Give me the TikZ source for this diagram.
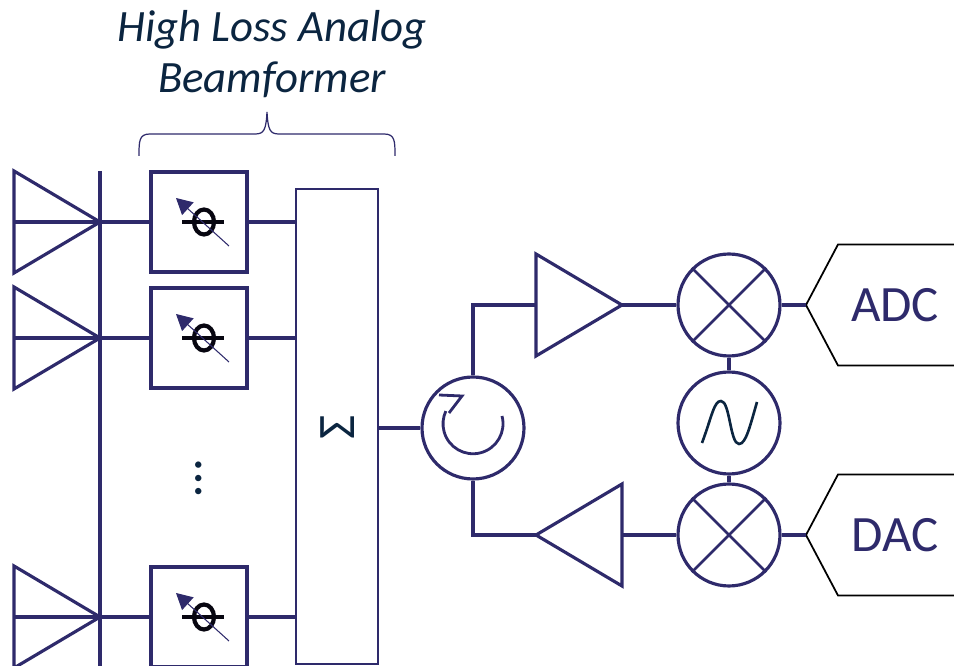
\documentclass[tikz,border=0pt]{standalone}
\usepackage{fontspec}
\setmainfont{Carlito}
\usetikzlibrary{shapes.geometric,arrows.meta}
\definecolor{navy}{HTML}{2E2A6B}
\definecolor{ink}{HTML}{0B2540}
\tikzset{
    wire/.style={navy, line width=1.8pt},
    thinbox/.style={draw=navy, line width=1.3pt, minimum width=1.64cm, minimum height=9.5cm, inner sep=0pt},
    phasebox/.style={draw=navy, line width=1.8pt, minimum width=1.92cm, minimum height=2cm, inner sep=0pt},
    roundel/.style={circle, draw=navy, line width=1.8pt, minimum size=2.04cm, inner sep=0pt},
    tri/.style={isosceles triangle, isosceles triangle stretches, draw=navy, line width=1.8pt, minimum width=2.04cm, minimum height=1.72cm, inner sep=0pt, outer sep=0pt},
    label/.style={navy, font=\fontsize{29}{34}\selectfont}
}
\begin{document}
\begin{tikzpicture}[x=0.02cm, y=0.02cm]
    \useasboundingbox (0,0) rectangle (954,666);
    \clip (0,0) rectangle (954,666);

    % antennas and phase shifters
    \coordinate (busTop) at (100,495);
    \coordinate (busBot) at (100,0);
    \draw[wire] (busTop) -- (busBot);
    \node[thinbox] (sum) at (337,239.5) {};
    \node[ink, rotate=90, font=\fontsize{30}{34}\selectfont] (sumLabel) at (338,239) {Σ};
    \foreach \i/\y in {1/444, 2/328, 3/49} {
        \node[tri, anchor=apex] (ant\i) at (100,\y) {};
        \node[phasebox] (ps\i) at (199,\y) {};
        \draw[wire] (ant\i.lower side) -- (ant\i.apex) -- (ps\i.west);
        \draw[wire] (ps\i.east) -- (sum.west |- ps\i.east);
        \begin{scope}[shift={(ps\i.center)}]
            \draw[black!85!navy, line width=2.2pt] (-17,0) -- (25,0);
            \draw[black!85!navy, line width=2.4pt] (5,0) ellipse (10 and 12.5);
            \draw[navy, line width=0.6pt, -{Triangle[length=0.32cm, width=0.34cm]}] (30,-24) -- (-23,24);
        \end{scope}
    }
    \node[ink, rotate=90, font=\fontsize{30}{34}\selectfont] (dots) at (199,188) {…};

    % brace and title
    \draw[navy, line width=0.7pt] (139,510) .. controls (139,525) and (139,532) .. (150,532)
        -- (255,532) .. controls (264,532) and (266,536) .. (267,554)
        .. controls (268,536) and (270,532) .. (279,532)
        -- (384,532) .. controls (395,532) and (395,525) .. (395,510);
    \node[ink, align=center, font=\fontsize{25.5}{29.5}\itshape\selectfont] (title) at (272,612) {High Loss Analog\\Beamformer};

    % circulator
    \node[roundel] (circ) at (473,238) {};
    \draw[navy, line width=1.6pt] (502,250) arc[start angle=15, end angle=-205, radius=30];
    \draw[navy, line width=1.6pt] (439,271) -- (462,270) -- (449,253);
    \draw[wire] (sum.east |- circ.west) -- (circ.west);

    % receive and transmit chains
    \node[tri, anchor=lower side] (rxAmp) at (536,361) {};
    \node[tri, shape border rotate=180, anchor=apex] (txAmp) at (536,131) {};
    \node[roundel] (rxMix) at (729,361) {};
    \node[roundel] (lo) at (729,243) {};
    \node[roundel] (txMix) at (729,131) {};
    \draw[wire] (circ.north) |- (rxAmp.lower side);
    \draw[wire] (circ.south) |- (txAmp.apex);
    \draw[wire] (rxAmp.apex) -- (rxMix.west);
    \draw[wire] (txAmp.lower side) -- (txMix.west);
    \draw[wire] (rxMix.south) -- (lo.north);
    \draw[wire] (lo.south) -- (txMix.north);
    \foreach \m in {rxMix, txMix} {
        \draw[navy, line width=1.6pt] (\m.north west) -- (\m.south east);
        \draw[navy, line width=1.6pt] (\m.north east) -- (\m.south west);
    }
    \draw[ink, line width=1.5pt] (702,223) .. controls (712,250) and (714,265) .. (721,265)
        .. controls (730,265) and (730,222) .. (739,222)
        .. controls (746,222) and (750,240) .. (757,264);

    % converters
    \foreach \n/\m/\y in {ADC/rxMix/361, DAC/txMix/131} {
        \coordinate (tip\n) at (806,\y);
        \draw[black, line width=1pt] (954,\y+60.5) -- (838,\y+60.5) -- (tip\n) -- (838,\y-60.5) -- (954,\y-60.5);
        \draw[wire] (\m.east) -- (tip\n);
        \node[label] (lab\n) at (895,\y) {\n};
    }
\end{tikzpicture}
\end{document}
